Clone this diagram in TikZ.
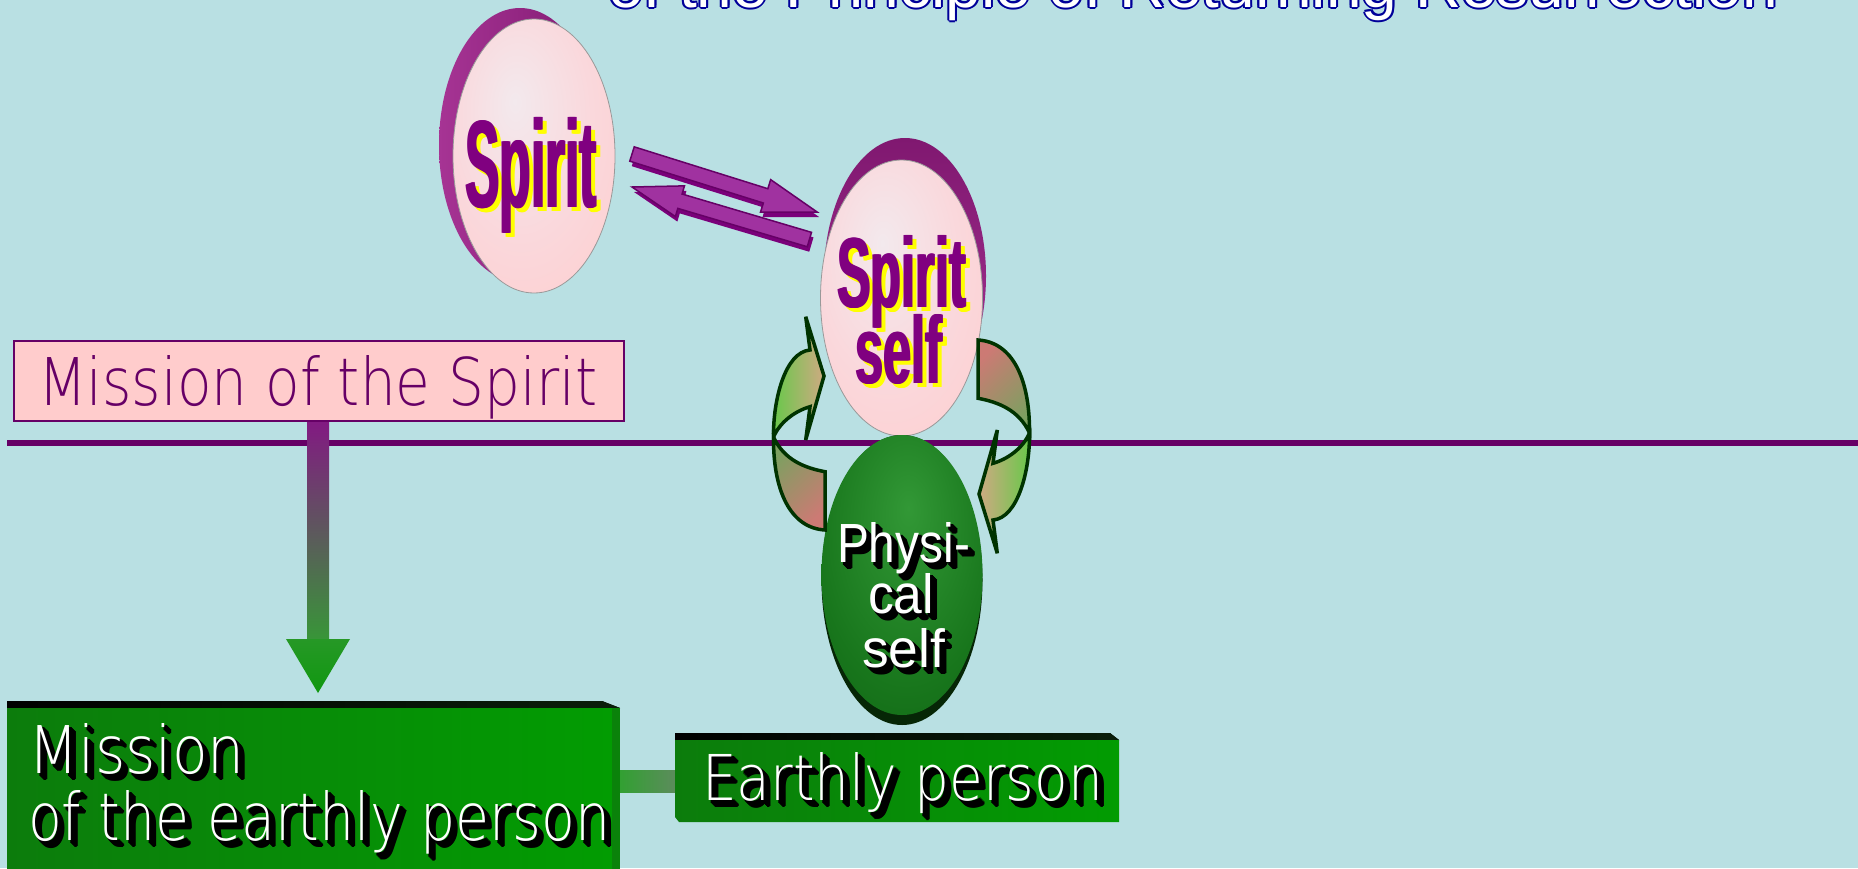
\documentclass[tikz,border=0pt]{standalone}
\usepackage{fontspec}
\usepackage{graphicx}
\setmainfont{Liberation Sans}
\newfontfamily\arialf{Liberation Sans}
\newfontfamily\arialbf{Liberation Sans Bold}
\IfFontExistsTF{DejaVu Sans ExtraLight}{\newfontfamily\thinf{DejaVu Sans ExtraLight}}{%
  \IfFontExistsTF{Lato Light}{\newfontfamily\thinf{Lato Light}}{\newfontfamily\thinf{Liberation Sans}}}

\definecolor{bg}{RGB}{185,224,227}
\definecolor{lineplum}{RGB}{102,0,102}
\definecolor{boxpink}{RGB}{255,204,204}
\definecolor{spiritpurple}{RGB}{128,0,128}
\definecolor{shadowyellow}{RGB}{255,255,0}
\definecolor{titleblue}{RGB}{0,0,153}
\definecolor{rimlight}{RGB}{166,52,148}
\definecolor{rimdark}{RGB}{128,24,112}
\definecolor{facehi}{RGB}{243,233,237}
\definecolor{facemid}{RGB}{250,216,220}
\definecolor{ghi}{RGB}{50,152,54}
\definecolor{gmid}{RGB}{24,118,28}
\definecolor{gedge}{RGB}{12,92,16}
\definecolor{gdark}{RGB}{6,38,6}
\definecolor{cdark}{RGB}{0,51,0}
\definecolor{cgreen}{RGB}{104,200,74}
\definecolor{ctan}{RGB}{206,170,130}
\definecolor{colive}{RGB}{124,160,96}
\definecolor{cpink}{RGB}{204,122,116}
\definecolor{aend}{RGB}{160,50,160}
\definecolor{amid}{RGB}{255,150,255}
\definecolor{aside}{RGB}{122,0,122}
\definecolor{vtop}{RGB}{130,26,130}
\definecolor{vmid}{RGB}{104,96,104}
\definecolor{vbot}{RGB}{56,150,56}
\definecolor{vhead}{RGB}{38,152,38}
\definecolor{vtip}{RGB}{16,152,16}
\definecolor{boxleft}{RGB}{12,124,12}
\definecolor{boxright}{RGB}{2,156,2}
\definecolor{boxtop}{RGB}{10,30,10}
\definecolor{connL}{RGB}{50,160,50}
\definecolor{connR}{RGB}{92,140,92}

\pgfdeclareradialshading{pinkface}{\pgfpoint{-6bp}{10bp}}{color(0bp)=(facehi); color(22bp)=(facemid); color(45bp)=(boxpink); color(75bp)=(boxpink)}
\pgfdeclareradialshading{greenface}{\pgfpoint{2bp}{12bp}}{color(0bp)=(ghi); color(28bp)=(gmid); color(50bp)=(gedge); color(75bp)=(gedge)}

\tikzset{
  txt/.style={anchor=base west, inner sep=0pt, outer sep=0pt},
  curvearrow/.style={draw=cdark, line width=3.5pt, line join=miter},
  blockarrow/.style={draw=lineplum, line width=1.5pt, left color=aend, middle color=amid, right color=aend},
}

% shadowed white text: name, x, baseline y, width, height, text
\newcommand\shadowed[6]{%
  \foreach \dx/\dy [count=\k] in {2/3,3/2,3/4,4/3,4/5,5/4,5/6,6/5,6/6,4/4,6/7,7/6}{%
    \node[txt,text=black] (#1-s\k) at (#2+\dx,#3+\dy) {\resizebox{#4pt}{#5pt}{#6}};}
  \node[txt,text=white] (#1) at (#2,#3) {\resizebox{#4pt}{#5pt}{#6}};
}
% heavy purple text with yellow shadow
\newcommand\spirittext[6]{%
  \foreach \dx [count=\k] in {4,5,6}{%
    \node[txt,text=shadowyellow] (#1-y\k) at (#2+\dx,#3+4) {\resizebox{#4pt}{#5pt}{\arialbf #6}};}
  \foreach \dx [count=\k] in {0,1,2}{%
    \node[txt,text=spiritpurple] (#1-p\k) at (#2+\dx,#3) {\resizebox{#4pt}{#5pt}{\arialbf #6}};}
}

\begin{document}
\begin{tikzpicture}[x=1pt,y=-1pt]
\useasboundingbox (0,0) rectangle (1858,868);
\fill[bg] (0,0) rectangle (1858,868);
\begin{scope}
\clip (0,0) rectangle (1858,868);

% ---- title (cut off at top) ----
\foreach \dx/\dy [count=\k] in {-2/0,2/0,0/-2,0/2,-1.5/-1.5,1.5/1.5,-1.5/1.5,1.5/-1.5}{%
  \node[txt,text=titleblue] (title-o\k) at (608+\dx,7+\dy) {\resizebox{1169pt}{!}{\arialf of the Principle of Returning Resurrection}};}
\node[txt,text=white] (title) at (608,7) {\resizebox{1169pt}{!}{\arialf of the Principle of Returning Resurrection}};

% ---- horizontal line ----
\coordinate (hlA) at (7,443);
\coordinate (hlB) at (1858,443);
\draw[lineplum, line width=6pt] (hlA) -- (hlB);

% ---- Mission of the Spirit box ----
\node[draw=lineplum, line width=2pt, fill=boxpink, minimum width=610pt, minimum height=80pt, inner sep=0pt, anchor=north west] (msbox) at (13,340) {};
\node[txt,text=lineplum] (mstext) at (38,405) {\resizebox{559pt}{50pt}{\thinf Mission of the Spirit}};

% ---- vertical arrow ----
\coordinate (vA) at (307,422);
\coordinate (vB) at (329,640);
\shade[top color=vtop, middle color=vmid, bottom color=vbot] (vA) rectangle (vB);
\coordinate (vh1) at (286,639);
\coordinate (vh2) at (350,639);
\coordinate (vtipc) at (318,693);
\shade[top color=vhead, bottom color=vtip] (vh1) -- (vh2) -- (vtipc) -- cycle;

% ---- Spirit (top) ----
\shade[left color=rimlight, right color=rimdark] (520,145) ellipse [x radius=81, y radius=137];
\shade[shading=pinkface] (534,156) ellipse [x radius=81, y radius=137];
\draw[gray!80, line width=0.8pt] (534,156) ellipse [x radius=81, y radius=137];
\spirittext{spirit}{464}{207}{132}{90}{Spirit}

% ---- double arrows ----
\begin{scope}[shift={(634,159)}, rotate=-17.4]
  \fill[aside] (0,-7.5) -- (140,-7.5) -- (140,-17) -- (194,0) -- (140,17) -- (140,7.5) -- (0,7.5) -- cycle;
\end{scope}
\begin{scope}[shift={(632,154)}, rotate=-17.4]
  \shadedraw[blockarrow] (0,-7.5) -- (140,-7.5) -- (140,-17) -- (194,0) -- (140,17) -- (140,7.5) -- (0,7.5) -- cycle;
\end{scope}
\begin{scope}[shift={(634,192)}, rotate=-16.5]
  \fill[aside] (0,0) -- (50,-16) -- (50,-7.5) -- (185,-7.5) -- (185,7.5) -- (50,7.5) -- (50,16) -- cycle;
\end{scope}
\begin{scope}[shift={(632,187)}, rotate=-16.5]
  \shadedraw[blockarrow] (0,0) -- (50,-16) -- (50,-7.5) -- (185,-7.5) -- (185,7.5) -- (50,7.5) -- (50,16) -- cycle;
\end{scope}

% ---- Spirit self ----
\shade[top color=rimdark, bottom color=rimlight] (905,276) ellipse [x radius=81, y radius=138];
\shade[shading=pinkface] (901.5,298) ellipse [x radius=81, y radius=138];
\draw[gray!80, line width=0.8pt] (901.5,298) ellipse [x radius=81, y radius=138];
\spirittext{spiritself1}{836}{307}{129}{72}{Spirit}
\spirittext{spiritself2}{854}{383}{87}{69}{self}

% ---- Physical self ----
\fill[gdark] (902,580) ellipse [x radius=80.5, y radius=145];
\shade[shading=greenface] (902,575) ellipse [x radius=80.5, y radius=140];
\shadowed{phys1}{837}{562}{133}{40}{\arialf Physi-}
\shadowed{phys2}{868}{613}{66}{40}{\arialf cal}
\shadowed{phys3}{862}{667}{83}{39}{\arialf self}

% ---- curved arrows ----
% left: tail (lower) part
\shadedraw[curvearrow, top color=colive, bottom color=cpink, shading angle=45]
  (773.5,437) .. controls (773,490) and (790,528) .. (825,530) -- (825,471.7)
  .. controls (805,468) and (784,460) .. (773.5,437) -- cycle;
% left: head (upper) part
\shadedraw[curvearrow, left color=cgreen, right color=ctan]
  (805.7,316.7) -- (824,376) -- (805.7,440) -- (810,406.7)
  .. controls (795,411) and (780,422) .. (773.5,437)
  .. controls (773,400) and (785,352) .. (810,350) -- cycle;
% right: tail (upper) part
\shadedraw[curvearrow, top color=cpink, bottom color=colive, shading angle=45]
  (1029.5,433) .. controls (1030,380) and (1013,342) .. (978,340) -- (978,398.3)
  .. controls (998,402) and (1019,410) .. (1029.5,433) -- cycle;
% right: head (lower) part
\shadedraw[curvearrow, left color=ctan, right color=cgreen]
  (997.3,553.3) -- (979,494) -- (997.3,430) -- (993,463.3)
  .. controls (1008,459) and (1023,448) .. (1029.5,433)
  .. controls (1030,470) and (1018,518) .. (993,520) -- cycle;

% ---- Mission of the earthly person box ----
\fill[left color=black, right color=boxtop] (7,701) -- (602,701) -- (620,708) -- (7,708) -- cycle;
\shade[left color=boxleft, right color=boxright] (7,708) rectangle (612,870);
\fill[boxleft!80!boxright] (612,708) rectangle (620,870);
\shadowed{me1}{28.6}{773}{216}{50}{\thinf Mission}
\shadowed{me2}{28}{840}{582}{50}{\thinf of the earthly person}

% ---- connector ----
\coordinate (cA) at (620,770);
\coordinate (cB) at (675,792);
\shade[left color=connL, right color=connR] (cA) rectangle (cB);

% ---- Earthly person box ----
\fill[left color=black, right color=boxtop] (675,733) -- (1110,733) -- (1119,740) -- (675,740) -- cycle;
\shade[left color=boxleft, right color=boxright] (675,740) -- (1119,740) -- (1119,822) -- (679,822) -- (675,817) -- cycle;
\shadowed{ep}{702}{800}{401}{48}{\thinf Earthly person}

\end{scope}
\end{tikzpicture}
\end{document}
